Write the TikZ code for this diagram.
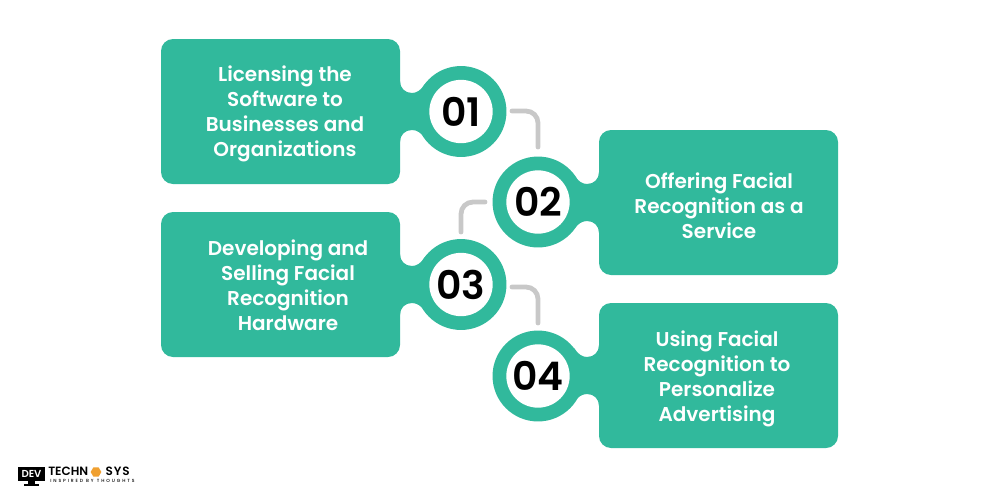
\documentclass[tikz,border=0pt]{standalone}
\usepackage{fontspec}
\usetikzlibrary{shapes.geometric}
\setmainfont{Poppins}
\newfontfamily\semif{Poppins SemiBold}
\newfontfamily\tagf[LetterSpace=42]{Poppins Medium}
\newfontfamily\sysf[LetterSpace=8]{Poppins SemiBold}
\definecolor{teal1}{HTML}{31B99C}
\definecolor{conn}{HTML}{C8C8C8}
\definecolor{hexo}{HTML}{F0A030}
\tikzset{
  x=0.75pt,y=-0.75pt,
  panel/.style={fill=teal1,draw=none,rounded corners=9pt},
  ringfill/.style={fill=teal1,draw=none},
  hole/.style={circle,fill=white,draw=none,minimum size=47.5pt,inner sep=0pt},
  num/.style={font=\fontsize{29.5pt}{30pt}\semif,text=black},
  lab/.style={font=\fontsize{15pt}{18.7pt}\semif,text=white,align=center,inner sep=0pt},
  link/.style={draw=conn,line width=3.6pt,line cap=round,rounded corners=9pt},
  logotext/.style={font=\fontsize{9pt}{9pt}\semif,text=black,inner sep=0pt},
}
\begin{document}
\begin{tikzpicture}
\useasboundingbox (0,0) rectangle (1000,500);
% left panels
\foreach \yy/\nn in {39/a,212/c}{
  \fill[panel] (161,\yy) rectangle ++(239,145);
  \begin{scope}[shift={(0,\yy-39)}]
  \fill[ringfill] (398,81) -- (400,81) .. controls (400,88) and (405,93) .. (412,93) .. controls (417,93) and (421,90) .. (425,84)
    -- (461,111) -- (425,138) .. controls (421,133) and (417,130) .. (412,130) .. controls (405,130) and (400,135) .. (400,142) -- (398,142) -- cycle;
  \end{scope}
}
% right panels
\foreach \yy in {130,303}{
  \fill[panel] (599,\yy) rectangle ++(239,145);
  \begin{scope}[shift={(0,\yy-130)}]
  \fill[ringfill] (601,172) -- (599,172) .. controls (599,179) and (594,184) .. (587,184) .. controls (582,184) and (578,181) .. (574,175)
    -- (538,202) -- (574,229) .. controls (578,224) and (582,221) .. (587,221) .. controls (594,221) and (599,226) .. (599,233) -- (601,233) -- cycle;
  \end{scope}
}
\fill[ringfill] (461,111.5) circle[radius=34.1pt];
\fill[ringfill] (538,202) circle[radius=34.1pt];
\fill[ringfill] (461,284.5) circle[radius=34.1pt];
\fill[ringfill] (538,376) circle[radius=34.1pt];
\node[hole] (c1) at (461,111.5) {};
\node[hole] (c2) at (538,202) {};
\node[hole] (c3) at (461,284.5) {};
\node[hole] (c4) at (538,376) {};
\node[num] at (c1) {01};
\node[num] at (c2) {02};
\node[num] at (c3) {03};
\node[num] at (c4) {04};
\node[lab] (t1) at (285,113.5) {Licensing the\\Software to\\Businesses and\\Organizations};
\node[lab] (t2) at (719,206) {Offering Facial\\Recognition as a\\Service};
\node[lab] (t3) at (288,285) {Developing and\\Selling Facial\\Recognition\\Hardware};
\node[lab] (t4) at (717,379) {Using Facial\\Recognition to\\Personalize\\Advertising};
% connectors
\coordinate (l1a) at (512,111);\coordinate (l1b) at (538,147);
\coordinate (l2a) at (485,202);\coordinate (l2b) at (461,232);
\coordinate (l3a) at (512,287);\coordinate (l3b) at (538,323);
\draw[link] (l1a) -| (l1b);
\draw[link] (l2a) -| (l2b);
\draw[link] (l3a) -| (l3b);
% logo
\fill[black] (18,467) rectangle (45,481);
\fill[black] (28,481) rectangle (35,484);
\fill[black] (24,484) rectangle (39,485.5);
\node[font=\fontsize{7.6pt}{8pt}\semif,text=white,inner sep=0pt] (dv) at (31.5,474.3) {DEV};
\node[logotext,anchor=west] (te) at (48,471.5) {TECHN};
\node[regular polygon,regular polygon sides=6,fill=hexo,minimum size=8pt,inner sep=0pt] (hx) at (96,472) {};
\node[logotext,font=\fontsize{9pt}{9pt}\sysf,anchor=east] (sy) at (130,471.5) {SYS};
\node[font=\fontsize{3.4pt}{4pt}\tagf,text=black,inner sep=0pt,anchor=west] (tg) at (50,480.5) {INSPIRED BY THOUGHTS};
\end{tikzpicture}
\end{document}
